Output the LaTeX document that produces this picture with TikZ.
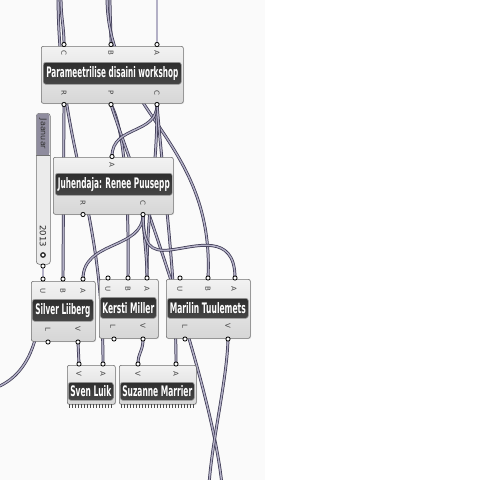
\documentclass[tikz,border=0pt]{standalone}
\usepackage{graphicx}
\usepackage{fontspec}
\setmainfont{DejaVu Sans}
\usetikzlibrary{shadows}
\definecolor{wireout}{HTML}{3B3852}
\definecolor{wirein}{HTML}{B3B0C6}
\definecolor{boxedge}{HTML}{707070}
\definecolor{boxtop}{HTML}{F2F2F2}
\definecolor{boxbot}{HTML}{D6D6D6}
\definecolor{barfill}{HTML}{2E2E2E}
\definecolor{barfill2}{HTML}{474747}
\definecolor{baredge}{HTML}{A0A0A0}
\definecolor{lblcol}{HTML}{444444}
\definecolor{sliderdark}{HTML}{8F8C9E}
\definecolor{bgleft}{HTML}{FAFAFA}
\newcommand{\fitw}[2]{\resizebox{#1pt}{\height}{#2}}
\tikzset{
  wire/.style={draw=wireout, double=wirein, line width=0.75pt, double distance=1.4pt},
  compbox/.style={draw=boxedge, line width=0.6pt, rounded corners=2pt, top color=boxtop, bottom color=boxbot,
    anchor=north west, inner sep=0pt, drop shadow={opacity=0.18, shadow xshift=0.8pt, shadow yshift=-0.8pt}},
  namebar/.style={draw=baredge, line width=0.6pt, rounded corners=2.5pt, top color=barfill, bottom color=barfill2,
    anchor=north west, inner sep=0pt, text=white, font=\fontsize{14.5}{14.5}\selectfont\bfseries},
  portlbl/.style={font=\fontsize{7}{7}\selectfont, text=lblcol, rotate=-90, inner sep=0pt},
  portdot/.style={draw=black, fill=white, line width=0.8pt},
  combtick/.style={draw=black!70, line width=0.7pt},
}
\begin{document}
\begin{tikzpicture}[x=1pt,y=-1pt]
\useasboundingbox (0,0) rectangle (480,480);
\fill[white] (0,0) rectangle (480,480);
\fill[bgleft] (0,0) rectangle (265,480);

% ports
\coordinate (mC) at (64,44.5);  \coordinate (mB) at (111,44.5); \coordinate (mA) at (157,44.5);
\coordinate (mR) at (64,104.5); \coordinate (mP) at (111,104.5); \coordinate (mCo) at (157,104.5);
\coordinate (jA) at (112,156.5); \coordinate (jR) at (83,214.5); \coordinate (jC) at (143,214.5);
\coordinate (sU) at (43,279); \coordinate (sB) at (63,279); \coordinate (sA) at (83,279);
\coordinate (sL) at (48,342); \coordinate (sV) at (78,342);
\coordinate (kU) at (108,278); \coordinate (kB) at (128,278); \coordinate (kA) at (147,278);
\coordinate (kL) at (114,339); \coordinate (kV) at (143,339);
\coordinate (lU) at (180,278); \coordinate (lB) at (208,278); \coordinate (lA) at (235,278);
\coordinate (lL) at (185,339); \coordinate (lV) at (228,339);
\coordinate (vV) at (79,364); \coordinate (vA) at (103,364);
\coordinate (zV) at (138,364); \coordinate (zA) at (176,364);
\coordinate (slo) at (43,266);
% free ends
\coordinate (t1) at (61,-3); \coordinate (t2) at (58,-3);
\coordinate (t3) at (110,-3); \coordinate (t4) at (107,-3);
\coordinate (t5) at (157,-3);
\coordinate (b1) at (222,485); \coordinate (b2) at (209,485);
\coordinate (l0) at (40,300); \coordinate (l1) at (-5,388);
\coordinate (w15m) at (170,250);

% wires
\draw[wire] (t1) .. controls (61,20) and (64,25) .. (mC);
\draw[wire] (t3) .. controls (110,20) and (111,25) .. (mB);
\draw[wire] (t5) -- (mA);
\draw[wire] (t2) .. controls (59,150) and (103,200) .. (vA);
\draw[wire] (t4) .. controls (107,110) and (215,140) .. (lB);
\draw[wire] (slo) -- (sU);
\draw[wire] (mR) -- (sB);
\draw[wire] (mP) .. controls (125,130) and (129,200) .. (kB);
\draw[wire] (mP) .. controls (125,150) and (210,370) .. (b1);
\draw[wire] (mCo) .. controls (157,135) and (112,125) .. (jA);
\draw[wire] (mCo) .. controls (157,180) and (147,200) .. (kA);
\draw[wire] (mCo) .. controls (165,200) and (176,280) .. (zA);
\draw[wire] (jC) .. controls (143,250) and (83,240) .. (sA);
\draw[wire] (jC) .. controls (144,240) and (147,255) .. (kA);
\draw[wire] (jC) .. controls (143,245) and (150,252) .. (w15m) .. controls (195,247) and (235,232) .. (lA);
\draw[wire] (sV) -- (vV);
\draw[wire] (kV) .. controls (143,352) and (138,352) .. (zV);
\draw[wire] (lV) .. controls (227,380) and (212,440) .. (b2);
\draw[wire] (l0) .. controls (40,335) and (30,375) .. (l1);

% component boxes
\node[compbox, minimum width=142pt, minimum height=57pt] (main) at (41,46) {};
\node[compbox, minimum width=120pt, minimum height=57pt] (juh) at (53,157) {};
\node[compbox, minimum width=64pt, minimum height=60pt] (silver) at (31,281) {};
\node[compbox, minimum width=59pt, minimum height=59pt] (kersti) at (99,279) {};
\node[compbox, minimum width=84pt, minimum height=59pt] (marilin) at (166,279) {};
\node[compbox, minimum width=48pt, minimum height=39pt] (sven) at (67,365) {};
\node[compbox, minimum width=77pt, minimum height=39pt] (suz) at (119,365) {};

% name bars
\node[namebar, minimum width=138pt, minimum height=22pt] (mainbar) at (43,62) {\fitw{132}{Parameetrilise disaini workshop}};
\node[namebar, minimum width=117pt, minimum height=22pt] (juhbar) at (55,173) {\fitw{112}{Juhendaja: Renee Puusepp}};
\node[namebar, minimum width=61pt, minimum height=22pt] (silverbar) at (32,299) {\fitw{55}{Silver Liiberg}};
\node[namebar, minimum width=56pt, minimum height=21pt] (kerstibar) at (100,297) {\fitw{52}{Kersti Miller}};
\node[namebar, minimum width=81pt, minimum height=20pt] (marilinbar) at (167,298) {\fitw{76}{Marilin Tuulemets}};
\node[namebar, minimum width=45pt, minimum height=18pt] (svenbar) at (68,382) {\fitw{41}{Sven Luik}};
\node[namebar, minimum width=74pt, minimum height=18pt] (suzbar) at (120,382) {\fitw{70}{Suzanne Marrier}};

% port labels
\node[portlbl] (lm1) at (64,53) {C};  \node[portlbl] (lm2) at (111,53) {B}; \node[portlbl] (lm3) at (157,53) {A};
\node[portlbl] (lm4) at (64,93) {R};  \node[portlbl] (lm5) at (111,93) {P}; \node[portlbl] (lm6) at (157,93) {C};
\node[portlbl] (lj1) at (112,165) {A};
\node[portlbl] (lj2) at (83,203) {R}; \node[portlbl] (lj3) at (143,203) {C};
\node[portlbl] (ls1) at (43,291) {U}; \node[portlbl] (ls2) at (63,291) {B}; \node[portlbl] (ls3) at (83,291) {A};
\node[portlbl] (ls4) at (48,329) {L}; \node[portlbl] (ls5) at (78,329) {V};
\node[portlbl] (lk1) at (108,289) {U}; \node[portlbl] (lk2) at (128,289) {B}; \node[portlbl] (lk3) at (147,289) {A};
\node[portlbl] (lk4) at (113,326) {L}; \node[portlbl] (lk5) at (143,326) {V};
\node[portlbl] (ll1) at (180,289) {U}; \node[portlbl] (ll2) at (208,289) {B}; \node[portlbl] (ll3) at (234,289) {A};
\node[portlbl] (ll4) at (185,326) {L}; \node[portlbl] (ll5) at (228,326) {V};
\node[portlbl] (lv1) at (79,374) {V}; \node[portlbl] (lv2) at (103,374) {A};
\node[portlbl] (lz1) at (138,374) {V}; \node[portlbl] (lz2) at (176,374) {A};

% combs
\foreach \x in {69,72,...,113} \draw[combtick] (\x,404) -- (\x,407.5);
\foreach \x in {121,124,...,194} \draw[combtick] (\x,404) -- (\x,407.5);

% slider
\node[draw=boxedge, line width=0.6pt, rounded corners=3pt, fill=white!92!black, anchor=north west,
      minimum width=14pt, minimum height=151pt, inner sep=0pt] (slider) at (36,113) {};
\fill[sliderdark, rounded corners=2.5pt] (36.6,155) -- (36.6,113.6) -- (49.4,113.6) -- (49.4,155) -- cycle;
\fill[sliderdark] (36.6,150) rectangle (49.4,155.5);
\draw[boxedge, line width=0.5pt] (36.3,155.5) -- (49.7,155.5);
\node[rotate=-90, inner sep=0pt, font=\fontsize{8}{8}\selectfont, text=black!80] (jaan) at (43,134) {Jaanuar};
\node[rotate=-90, inner sep=0pt, font=\fontsize{8.5}{8.5}\selectfont, text=black!85] (year) at (43,236) {2013};
\draw[black!85, line width=1.3pt, fill=white] (43,255) circle (2.2);

% port dots
\foreach \p in {mC,mB,mA,mR,mP,mCo,jA,jR,jC,sU,sB,sA,sL,sV,kU,kB,kA,kL,kV,lU,lB,lA,lL,lV,vV,vA,zV,zA,slo}
  \draw[portdot] (\p) circle (2.1);
\end{tikzpicture}
\end{document}
